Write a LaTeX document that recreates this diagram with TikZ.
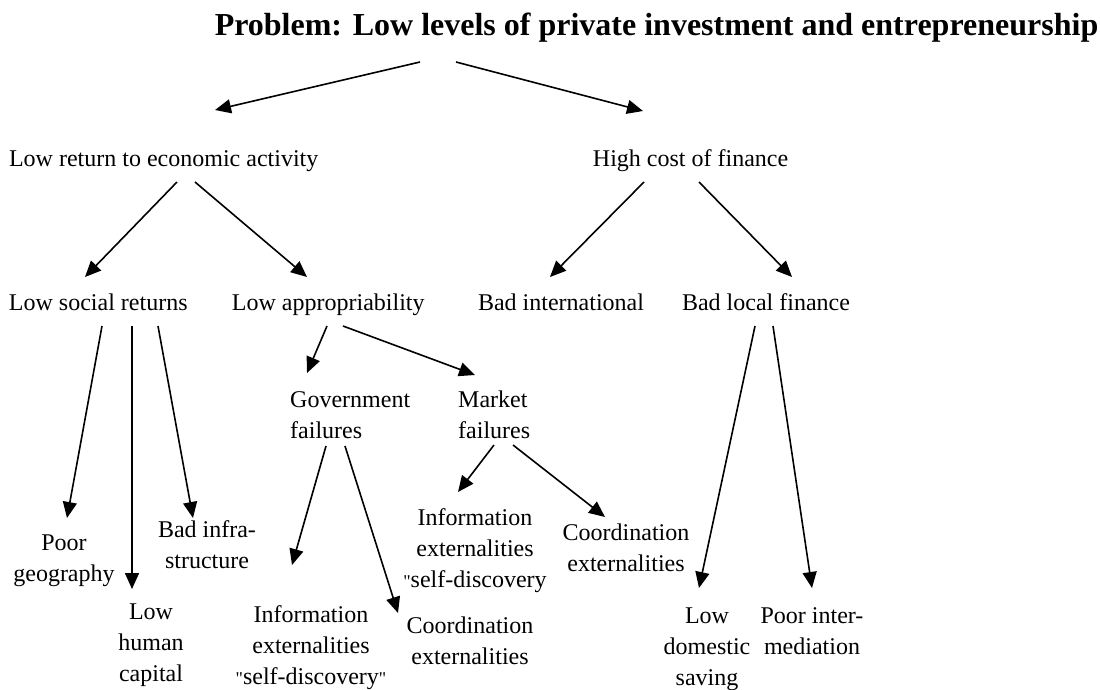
\documentclass[tikz,border=0pt]{standalone}
\usepackage{fontspec}
\setmainfont{Liberation Serif}[Ligatures=TeXOff]
\usetikzlibrary{arrows.meta}
\newcommand{\stk}[2][c]{\begin{tabular}[t]{@{}#1@{}}#2\end{tabular}}
\newcommand{\qm}{{\fontsize{18}{18}\selectfont"}}
\begin{document}
\begin{tikzpicture}[x=1pt,y=-1pt,
  lbl/.style={inner sep=0pt, anchor=base, font=\fontsize{24}{31}\selectfont},
  ttl/.style={inner sep=0pt, anchor=base, font=\fontsize{32}{38}\selectfont\bfseries},
  arr/.style={line width=1.6pt, -{Triangle[length=16pt,width=14pt]}}]
\useasboundingbox (0,0) rectangle (1100,689);

\node[ttl] (title) at (656.5,35) {Problem: Low levels of private investment and entrepreneurship};
\node[lbl] (lowret) at (163.7,166) {Low return to economic activity};
\node[lbl] (highcost) at (690.6,166) {High cost of finance};
\node[lbl] (lowsoc) at (98.3,310) {Low social returns};
\node[lbl] (lowapp) at (328.3,310) {Low appropriability};
\node[lbl] (badint) at (561,310) {Bad international};
\node[lbl] (badloc) at (766,310) {Bad local finance};
\node[lbl] (geo) at (64,550) {\stk{Poor\\geography}};
\node[lbl] (human) at (151,619) {\stk{Low\\human\\capital}};
\node[lbl] (infra) at (207,537) {\stk{Bad infra-\\structure}};
\node[lbl, anchor=base west] (gov) at (290,407) {\stk[l]{Government\\failures}};
\node[lbl, anchor=base west] (mkt) at (458,407) {\stk[l]{Market\\failures}};
\node[lbl] (info1) at (311,622) {\stk{Information\\externalities\\\qm self-discovery\qm}};
\node[lbl] (coord1) at (470,633) {\stk{Coordination\\externalities}};
\node[lbl] (info2) at (475,525) {\stk{Information\\externalities\\\qm self-discovery}};
\node[lbl] (coord2) at (626,540) {\stk{Coordination\\externalities}};
\node[lbl] (saving) at (707,623) {\stk{Low\\domestic\\saving}};
\node[lbl] (interm) at (812,623) {\stk{Poor inter-\\mediation}};

\draw[arr] ([shift={(-236.5,27)}]title.base) -- ([shift={(51.3,-56)}]lowret.base);
\draw[arr] ([shift={(-200.5,27)}]title.base) -- ([shift={(-47.6,-55)}]highcost.base);
\draw[arr] ([shift={(13.3,16)}]lowret.base) -- ([shift={(-13.3,-33)}]lowsoc.base);
\draw[arr] ([shift={(31.3,16)}]lowret.base) -- ([shift={(-21.3,-33)}]lowapp.base);
\draw[arr] ([shift={(-46.6,16)}]highcost.base) -- ([shift={(-11,-33)}]badint.base);
\draw[arr] ([shift={(8.4,16)}]highcost.base) -- ([shift={(26,-33)}]badloc.base);
\draw[arr] ([shift={(3.7,16)}]lowsoc.base) -- ([shift={(3,-32)}]geo.base);
\draw[arr] ([shift={(33.7,16)}]lowsoc.base) -- ([shift={(-19,-30)}]human.base);
\draw[arr] ([shift={(59.7,16)}]lowsoc.base) -- ([shift={(-14,-19)}]infra.base);
\draw[arr] ([shift={(-1.3,16)}]lowapp.base) -- ([shift={(17,-34)}]gov.base west);
\draw[arr] ([shift={(14.7,16)}]lowapp.base) -- ([shift={(17,-32)}]mkt.base west);
\draw[arr] ([shift={(36,39)}]gov.base west) -- ([shift={(-19,-57)}]info1.base);
\draw[arr] ([shift={(55,39)}]gov.base west) -- ([shift={(-72,-20)}]coord1.base);
\draw[arr] ([shift={(36,38)}]mkt.base west) -- ([shift={(-17,-33)}]info2.base);
\draw[arr] ([shift={(55,38)}]mkt.base west) -- ([shift={(-21,-23)}]coord2.base);
\draw[arr] ([shift={(-11,16)}]badloc.base) -- ([shift={(-8,-35)}]saving.base);
\draw[arr] ([shift={(7,16)}]badloc.base) -- ([shift={(0,-35)}]interm.base);
\end{tikzpicture}
\end{document}
